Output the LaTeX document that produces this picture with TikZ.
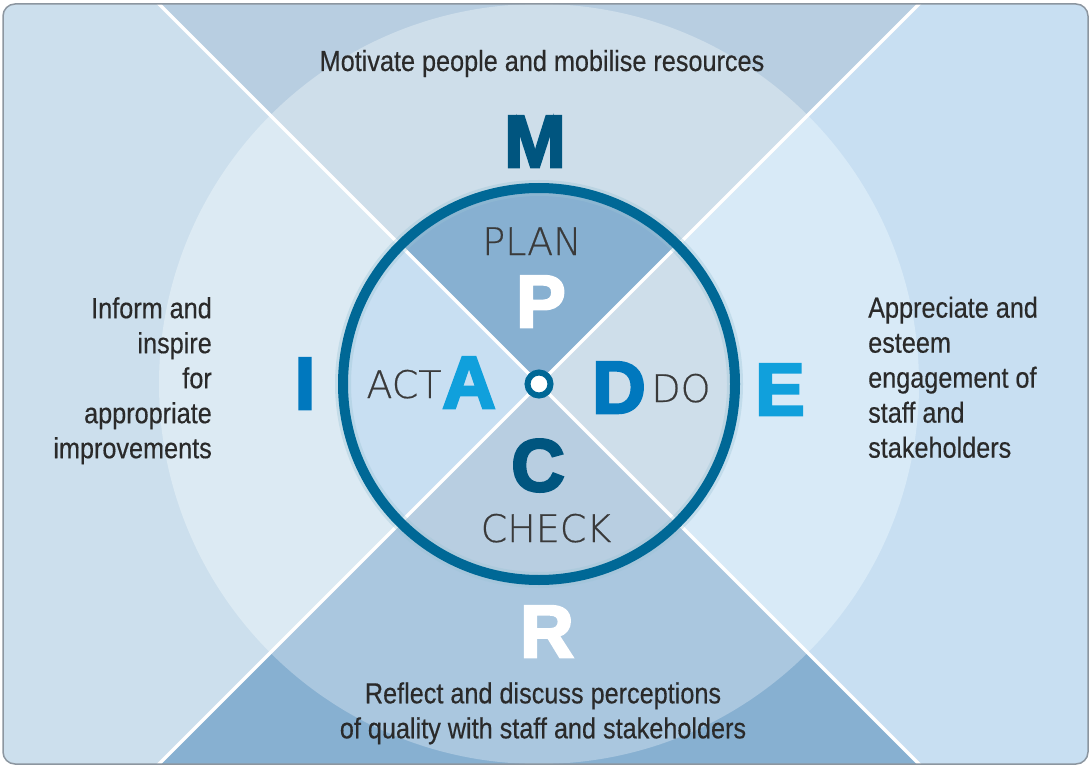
\documentclass[tikz,border=0pt]{standalone}
\usepackage{fontspec}
\setmainfont{Liberation Sans}
\newfontfamily\condf[FakeStretch=0.87,FakeBold=0.4]{Liberation Sans}
\newfontfamily\heavyf[FakeBold=3.5]{Liberation Sans Bold}
\newfontfamily\thinf[FakeBold=0.5]{DejaVu Sans ExtraLight}
\definecolor{outL}{HTML}{CCDFED}
\definecolor{outT}{HTML}{B8CEE1}
\definecolor{outR}{HTML}{C8DFF2}
\definecolor{outB}{HTML}{87B0D1}
\definecolor{midL}{HTML}{DCEAF3}
\definecolor{midT}{HTML}{CEDEEA}
\definecolor{midR}{HTML}{D8EAF7}
\definecolor{midB}{HTML}{AAC7DF}
\definecolor{inT}{HTML}{87B0D1}
\definecolor{inL}{HTML}{C8DFF2}
\definecolor{inR}{HTML}{CEDEEA}
\definecolor{inB}{HTML}{B8CEE1}
\definecolor{ringc}{HTML}{006896}
\definecolor{darkl}{HTML}{00557F}
\definecolor{midl}{HTML}{0078BE}
\definecolor{brightl}{HTML}{10A0DC}
\definecolor{txt}{HTML}{2A2A2A}
\definecolor{thintxt}{HTML}{3A3A3A}
\definecolor{framec}{HTML}{8C96A0}
\newcommand\quadfill[4]{%
  \fill[#1] (539,384) -- ++(-1000,-1000) -- ++(0,2000) -- cycle;
  \fill[#2] (539,384) -- ++(-1000,-1000) -- ++(2000,0) -- cycle;
  \fill[#3] (539,384) -- ++(1000,-1000) -- ++(0,2000) -- cycle;
  \fill[#4] (539,384) -- ++(-1000,1000) -- ++(2000,0) -- cycle;}
\tikzset{
  desc/.style={text=txt, inner sep=0pt, font={\condf\fontsize{29pt}{35pt}\selectfont}},
  bigletter/.style={inner sep=0pt, anchor=base, font={\heavyf\fontsize{74pt}{80pt}\selectfont}},
  phase/.style={inner sep=0pt, anchor=base, text=thintxt, font={\thinf\fontsize{38pt}{40pt}\selectfont}},
  divider/.style={white, line width=3.5pt}
}
\begin{document}
\begin{tikzpicture}[x=1pt, y=-1pt]
\useasboundingbox (0,0) rectangle (1091,767);
\begin{scope}
  \clip[rounded corners=12pt] (3,4) rectangle (1088,764);
  \quadfill{outL}{outT}{outR}{outB}
  \begin{scope}
    \clip (539,384) circle[radius=380pt];
    \quadfill{midL}{midT}{midR}{midB}
  \end{scope}
  \begin{scope}
    \clip (539,384) circle[radius=196pt];
    \quadfill{inL}{inT}{inR}{inB}
  \end{scope}
  \draw[divider] (539,384) -- ++(-1000,-1000);
  \draw[divider] (539,384) -- ++(1000,-1000);
  \draw[divider] (539,384) -- ++(-1000,1000);
  \draw[divider] (539,384) -- ++(1000,1000);
\end{scope}
\draw[ringc!40, opacity=0.35, line width=16pt] (539,384) circle[radius=196pt];
\draw[ringc, line width=10pt] (539,384) circle[radius=196pt];
\draw[ringc, fill=white, line width=6pt] (539,384) circle[radius=11.5pt];
\draw[framec, line width=1.5pt, rounded corners=12pt] (3,4) rectangle (1088,764);

\node[desc, anchor=base] (mot) at (542,71) {Motivate people and mobilise resources};
\node[desc, anchor=east, align=right] (inf) at (212,380.7) {Inform and\\inspire\\for\\appropriate\\improvements};
\node[desc, anchor=west, align=left] (app) at (868,377.3) {Appreciate and\\esteem\\engagement of\\staff and\\stakeholders};
\node[desc, align=center] (ref) at (543,713.3) {Reflect and discuss perceptions\\of quality with staff and stakeholders};

\node[bigletter, text=darkl] (M) at (535,167) {M};
\node[bigletter, text=midl] (I) at (305,409) {I};
\node[bigletter, text=brightl] (E) at (780,415) {E};
\node[bigletter, text=white] (R) at (547,657) {R};
\node[bigletter, text=white] (P) at (541,327) {P};
\node[bigletter, text=brightl] (A) at (469,408) {A};
\node[bigletter, text=midl] (D) at (619,413) {D};
\node[bigletter, text=darkl] (C) at (538,491) {C};

\node[phase] (plan) at (532,255) {PLAN};
\node[phase] (act) at (404,398) {ACT};
\node[phase] (do) at (681,402) {DO};
\node[phase] (check) at (546,542) {CHECK};
\end{tikzpicture}
\end{document}
